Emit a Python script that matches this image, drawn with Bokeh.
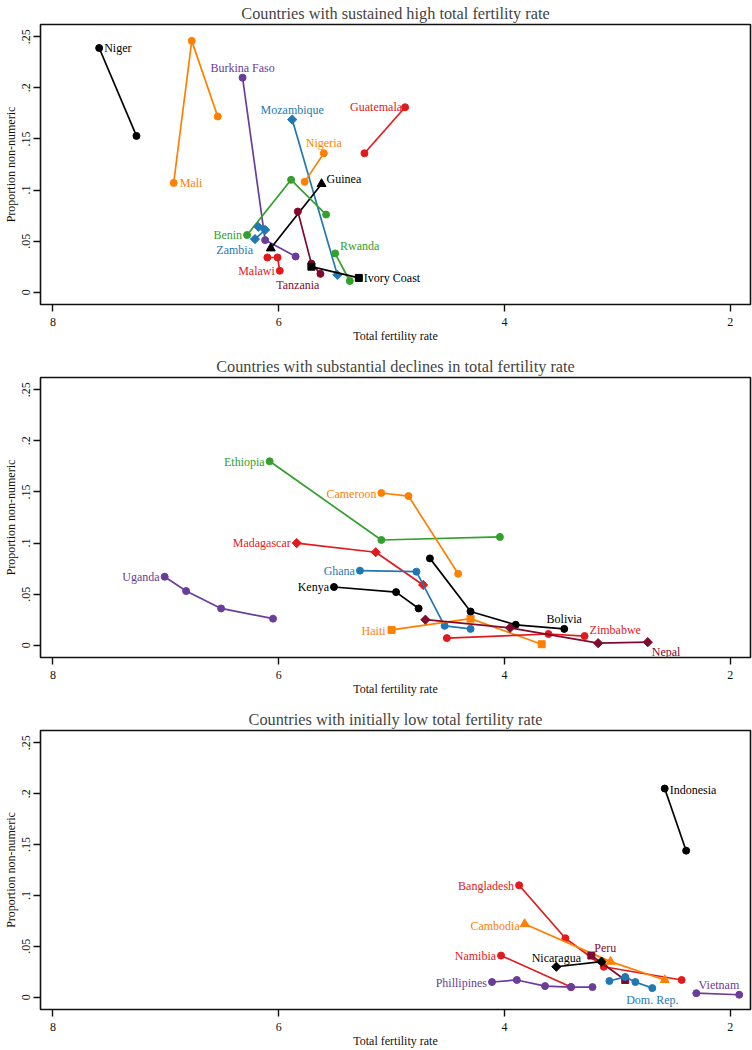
import math
from bokeh.plotting import figure
from bokeh.models import Range1d, FixedTicker
from bokeh.layouts import column
from bokeh.core.properties import value
from bokeh.embed import file_html
from bokeh.resources import INLINE

# ---------------- data ----------------
titles = ["Countries with sustained high total fertility rate",
          "Countries with substantial declines in total fertility rate",
          "Countries with initially low total fertility rate"]

countries1 = ["Niger", "Mali", "Burkina Faso", "Mozambique", "Nigeria", "Guatemala",
              "Guinea", "Benin", "Zambia", "Rwanda", "Malawi", "Tanzania", "Ivory Coast"]
tfr1 = [[7.59, 7.26], [6.93, 6.77, 6.54], [6.32, 6.12, 5.85], [5.88, 5.48],
        [5.77, 5.60], [5.24, 4.88], [6.07, 5.62], [6.28, 5.89, 5.58],
        [6.18, 6.12, 6.21], [5.50, 5.37], [6.10, 6.01, 5.99], [5.83, 5.71, 5.63],
        [5.71, 5.29]]
prop1 = [[0.239, 0.153], [0.107, 0.246, 0.172], [0.210, 0.051, 0.035], [0.169, 0.017],
         [0.108, 0.136], [0.136, 0.181], [0.043, 0.106], [0.056, 0.110, 0.076],
         [0.064, 0.061, 0.052], [0.038, 0.011], [0.034, 0.034, 0.021],
         [0.079, 0.028, 0.018], [0.025, 0.014]]

countries2 = ["Uganda", "Ethiopia", "Cameroon", "Madagascar", "Ghana", "Kenya",
              "Haiti", "Bolivia", "Zimbabwe", "Nepal"]
tfr2 = [[7.01, 6.82, 6.51, 6.05], [6.08, 5.09, 4.04], [5.09, 4.85, 4.41],
        [5.84, 5.14, 4.72], [5.28, 4.78, 4.53, 4.30], [5.51, 4.96, 4.76],
        [5.00, 4.30, 3.67], [4.66, 4.30, 3.90, 3.47], [4.51, 3.61, 3.29],
        [4.70, 3.95, 3.17, 2.73]]
prop2 = [[0.067, 0.053, 0.036, 0.026], [0.180, 0.103, 0.106], [0.149, 0.146, 0.070],
         [0.100, 0.091, 0.059], [0.073, 0.072, 0.019, 0.016], [0.057, 0.052, 0.036],
         [0.015, 0.026, 0.001], [0.085, 0.033, 0.020, 0.016], [0.007, 0.011, 0.009],
         [0.025, 0.017, 0.002, 0.003]]

countries3 = ["Indonesia", "Bangladesh", "Cambodia", "Peru", "Nicaragua", "Namibia",
              "Phillipines", "Dom. Rep.", "Vietnam"]
tfr3 = [[2.58, 2.39], [3.87, 3.46, 3.12, 2.43], [3.82, 3.06, 2.58], [3.23, 2.93],
        [3.54, 3.14], [4.03, 3.41], [4.11, 3.89, 3.64, 3.41, 3.22],
        [3.07, 2.93, 2.84, 2.69], [2.30, 1.92]]
prop3 = [[0.205, 0.144], [0.110, 0.058, 0.030, 0.017], [0.072, 0.035, 0.017],
         [0.041, 0.017], [0.030, 0.035], [0.041, 0.010],
         [0.015, 0.017, 0.011, 0.010, 0.010], [0.016, 0.020, 0.015, 0.009],
         [0.004, 0.0025]]

x_ticks = [8, 6, 4, 2]
y_ticks = [0, 0.05, 0.1, 0.15, 0.2, 0.25]
y_tick_labels = ["0", ".05", ".1", ".15", ".2", ".25"]

# ---------------- styles ----------------
BLACK = "#000000"
ORANGE = "#FF7F00"
PURPLE = "#6A3D9A"
BLUE = "#1F78B4"
RED = "#E31A1C"
GREEN = "#33A02C"
MAROON = "#7F0A2E"

# (color, marker, label anchor index, align, dx, dy)
style1 = [(BLACK, "circle", 0, "left", 5, 0), (ORANGE, "circle", 0, "left", 6, 0),
          (PURPLE, "circle", 0, "center", 0, -10), (BLUE, "diamond", 0, "center", 0, -10),
          (ORANGE, "circle", -1, "center", 0, -10), (RED, "circle", -1, "right", -3, 0),
          (BLACK, "triangle", -1, "left", 5, -5), (GREEN, "circle", 0, "right", -5, 0),
          (BLUE, "diamond", 2, "right", -2, 11), (GREEN, "circle", 0, "left", 5, -7),
          (RED, "circle", -1, "right", -5, 0), (MAROON, "circle", -1, "right", -1, 11),
          (BLACK, "square", -1, "left", 5, 0)]
style2 = [(PURPLE, "circle", 0, "right", -5, 0), (GREEN, "circle", 0, "right", -5, 1),
          (ORANGE, "circle", 0, "right", -5, 1), (RED, "diamond", 0, "right", -6, 0),
          (BLUE, "circle", 0, "right", -5, 0), (BLACK, "circle", 0, "right", -5, 0),
          (ORANGE, "square", 0, "right", -6, 1), (BLACK, "circle", -1, "center", 0, -10),
          (RED, "circle", -1, "left", 5, -6), (MAROON, "diamond", -1, "left", 4, 10)]
style3 = [(BLACK, "circle", 0, "left", 5, 1), (RED, "circle", 0, "right", -5, 1),
          (ORANGE, "triangle", 0, "right", -5, 2), (MAROON, "square", 0, "left", 3, -8),
          (BLACK, "diamond", 0, "center", 0, -9), (RED, "circle", 0, "right", -5, 0),
          (PURPLE, "circle", 0, "right", -5, 1), (BLUE, "circle", -1, "center", 0, 12),
          (PURPLE, "circle", -1, "right", 0, -10)]

FONT = "Liberation Serif"
# marker -> (bokeh marker, size, angle)
MARK = {"circle": ("circle", 7, 0.0), "diamond": ("square", 6.5, math.pi / 4),
        "triangle": ("triangle", 9, 0.0), "square": ("square", 7, 0.0)}


def make_panel(title, countries, tfr, prop, styles, height, bottom):
    p = figure(width=752, height=height, x_range=Range1d(8.11, 1.82),
               y_range=Range1d(-0.012, 0.262), output_backend="svg",
               toolbar_location=None, min_border_left=38, min_border_right=2,
               min_border_top=22, min_border_bottom=bottom)
    p.title.text = title
    p.title.text_font = FONT
    p.title.text_font_size = "16.3px"
    p.title.text_font_style = "normal"
    p.title.align = "center"
    p.title.standoff = 3
    p.xgrid.visible = False
    p.ygrid.visible = False
    p.outline_line_color = "#111111"
    p.outline_line_width = 1.6
    p.background_fill_color = "white"
    p.border_fill_color = "white"

    xa = p.xaxis[0]
    xa.ticker = FixedTicker(ticks=x_ticks)
    xa.axis_label = "Total fertility rate"
    ya = p.yaxis[0]
    ya.ticker = FixedTicker(ticks=y_ticks)
    ya.major_label_overrides = {t: l for t, l in zip(y_ticks, y_tick_labels)}
    ya.major_label_orientation = "vertical"
    ya.axis_label = "Proportion non-numeric"
    for ax in (xa, ya):
        ax.axis_line_color = None
        ax.minor_tick_line_color = None
        ax.major_tick_in = 0
        ax.major_tick_out = 7
        ax.major_tick_line_width = 1.4
        ax.major_tick_line_color = "#111111"
        ax.major_label_text_font = FONT
        ax.major_label_text_font_size = "12px"
        ax.major_label_text_color = "#111111"
        ax.axis_label_text_font = FONT
        ax.axis_label_text_font_size = "12px"
        ax.axis_label_text_font_style = "normal"
        ax.axis_label_text_color = "#111111"
    xa.major_label_standoff = 6
    xa.axis_label_standoff = 0
    ya.major_tick_out = 7
    ya.major_label_standoff = 3
    ya.axis_label_standoff = 2

    for name, xs, ys, st in zip(countries, tfr, prop, styles):
        color, marker, idx, align, dx, dy = st
        mk, size, angle = MARK[marker]
        p.line(xs, ys, line_color=color, line_width=1.7)
        p.scatter(xs, ys, marker=mk, size=size, angle=angle, fill_color=color,
                  line_color=color)
        p.text(x=[xs[idx]], y=[ys[idx]], text=[name], text_color=color,
               text_font=value(FONT), text_font_size="12px", text_align=align,
               text_baseline="middle", x_offset=dx, y_offset=dy)
    return p


p1 = make_panel(titles[0], countries1, tfr1, prop1, style1, 353, 49)
p2 = make_panel(titles[1], countries2, tfr2, prop2, style2, 353, 49)
p3 = make_panel(titles[2], countries3, tfr3, prop3, style3, 344, 40)

layout = column(p1, p2, p3, spacing=0)
open("out.html", "w").write(file_html(layout, INLINE))
